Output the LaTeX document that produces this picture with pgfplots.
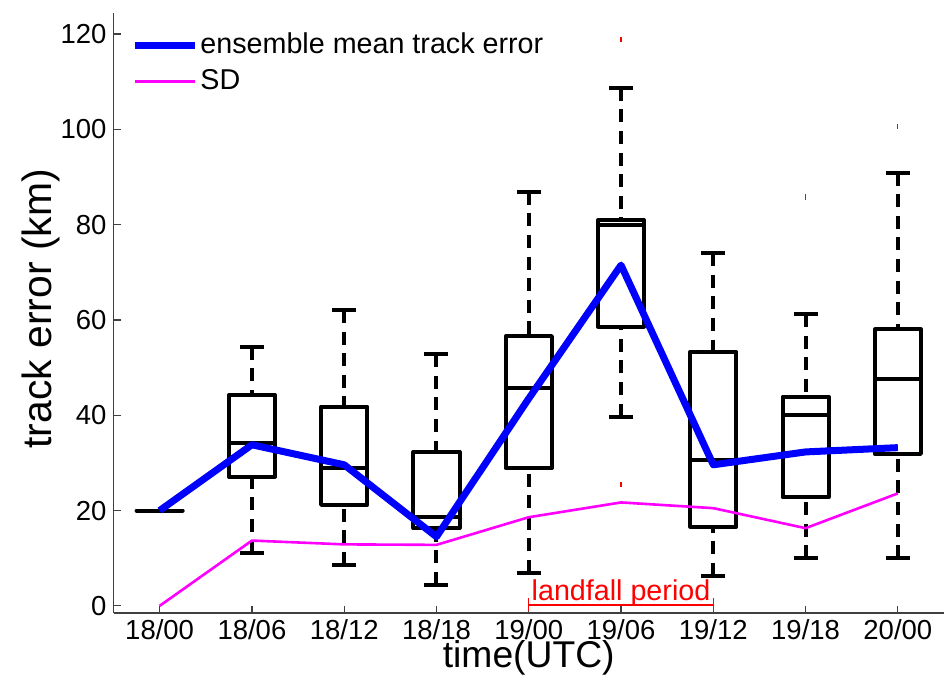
\documentclass[border=0pt]{standalone}
\usepackage{fontspec}
\setmainfont{Liberation Sans}
\usepackage{pgfplots}
\pgfplotsset{compat=1.18}
\usepgfplotslibrary{statistics}

\definecolor{mblue}{RGB}{0,0,255}
\definecolor{mmag}{RGB}{255,0,255}
\definecolor{mred}{RGB}{255,0,0}

% matlab-like whiskers: dashed stem, solid cap
\pgfplotsset{
  boxplot/draw direction=y,
  boxplot/box extend=0.5,
  boxplot/whisker extend=0.26,
  boxplot/draw/lower whisker/.code={%
    \draw[dash pattern=on 6.5bp off 4.3bp]
      (boxplot cs:\pgfkeysvalueof{/pgfplots/boxplot/lower whisker})
      -- (boxplot cs:\pgfkeysvalueof{/pgfplots/boxplot/lower quartile});
    \draw (boxplot whisker cs:\pgfkeysvalueof{/pgfplots/boxplot/lower whisker},0)
      -- (boxplot whisker cs:\pgfkeysvalueof{/pgfplots/boxplot/lower whisker},1);
  },
  boxplot/draw/upper whisker/.code={%
    \draw[dash pattern=on 6.5bp off 4.3bp]
      (boxplot cs:\pgfkeysvalueof{/pgfplots/boxplot/upper whisker})
      -- (boxplot cs:\pgfkeysvalueof{/pgfplots/boxplot/upper quartile});
    \draw (boxplot whisker cs:\pgfkeysvalueof{/pgfplots/boxplot/upper whisker},0)
      -- (boxplot whisker cs:\pgfkeysvalueof{/pgfplots/boxplot/upper whisker},1);
  },
  bx/.style={black, line width=2bp, line join=round, mark=none, forget plot, boxplot/draw direction=y},
}

\begin{document}
\begin{tikzpicture}
\begin{axis}[
  name=ax,
  scale only axis,
  width=415.25bp, height=300bp,
  xmin=-0.5, xmax=8.5, ymin=-1.5, ymax=124.4,
  axis lines=left,
  axis line style={-, line width=0.6bp, black!75},
  xtick={0,...,8},
  xticklabels={18/00,18/06,18/12,18/18,19/00,19/06,19/12,19/18,20/00},
  ytick={0,20,...,120},
  tick align=inside,
  major tick length=3.5bp,
  tick style={line width=0.6bp, black!75},
  tick label style={font=\fontsize{13.8}{16}\selectfont},
  /pgf/number format/assume math mode=true,
  xlabel={time(UTC)},
  ylabel={track error (km)},
  xlabel style={font=\fontsize{18.7}{22}\selectfont, at={(axis description cs:0.5,-0.09)}, anchor=base},
  ylabel style={font=\fontsize{20.5}{24}\selectfont, at={(axis description cs:-0.0873,0.507)}, anchor=center},
  clip=false,
  legend style={draw=none, fill=none, at={(axis description cs:0.0211,0.963)}, anchor=north west,
    inner xsep=0pt, inner ysep=0pt, row sep=8bp,
    font=\fontsize{14.4}{17}\selectfont,
    nodes={inner sep=0pt, text height=0.9em, text depth=0.1em},
    /tikz/every odd column/.append style={column sep=1bp}},
  legend cell align=left,
  legend image code/.code={\draw[#1] (0bp,0bp) -- (30bp,0bp);},
]
\addplot[bx, boxplot prepared={draw position=0, lower whisker=20, lower quartile=20, median=20, upper quartile=20, upper whisker=20}] coordinates {};
\addplot[bx, boxplot prepared={draw position=1, lower whisker=11.0, lower quartile=27.1, median=34.1, upper quartile=44.2, upper whisker=54.4}] coordinates {};
\addplot[bx, boxplot prepared={draw position=2, lower whisker=8.6, lower quartile=21.2, median=28.9, upper quartile=41.8, upper whisker=62.1}] coordinates {};
\addplot[bx, boxplot prepared={draw position=3, lower whisker=4.4, lower quartile=16.3, median=18.7, upper quartile=32.3, upper whisker=52.8}] coordinates {};
\addplot[bx, boxplot prepared={draw position=4, lower whisker=6.9, lower quartile=28.9, median=45.8, upper quartile=56.6, upper whisker=86.9}] coordinates {};
\addplot[bx, boxplot prepared={draw position=5, lower whisker=39.7, lower quartile=58.6, median=80.0, upper quartile=80.9, upper whisker=108.7}] coordinates {};
\addplot[bx, boxplot prepared={draw position=6, lower whisker=6.3, lower quartile=16.6, median=30.6, upper quartile=53.3, upper whisker=74.0}] coordinates {};
\addplot[bx, boxplot prepared={draw position=7, lower whisker=10.0, lower quartile=22.8, median=40.0, upper quartile=43.9, upper whisker=61.2}] coordinates {};
\addplot[bx, boxplot prepared={draw position=8, lower whisker=10.0, lower quartile=31.9, median=47.6, upper quartile=58.0, upper whisker=90.9}] coordinates {};

% outliers
\addplot[only marks, mark=|, mark size=1.3bp, mark options={mred, line width=0.6bp}, forget plot]
  coordinates {(5,118.9) (5,25.4) (7,85.8) (8,100.5)};

% ensemble mean and spread
\addplot[mblue, line width=3.5bp, line join=round] coordinates {
  (0,20) (1,33.8) (2,29.6) (3,14.5) (4,43.5) (5,71.5) (6,29.6) (7,32.3) (8,33.2)};
\addlegendentry{ensemble mean track error}
\addplot[mmag, line width=1.3bp, line join=round] coordinates {
  (0,0) (1,13.7) (2,12.9) (3,12.8) (4,18.6) (5,21.7) (6,20.5) (7,16.3) (8,23.6)};
\addlegendentry{SD}

% landfall period
\addplot[mred, line width=0.7bp, mark=|, mark size=3.25bp, forget plot] coordinates {(4,0.2) (6,0.2)};
\node[mred, anchor=base, font=\fontsize{14.4}{17}\selectfont] at (axis cs:5,1.05) {landfall period};
\end{axis}
\pgfresetboundingbox
\useasboundingbox ([shift={(-56.75bp,-33.5bp)}]ax.south west) rectangle ([shift={(1bp,6.5bp)}]ax.north east);
\end{tikzpicture}
\end{document}
